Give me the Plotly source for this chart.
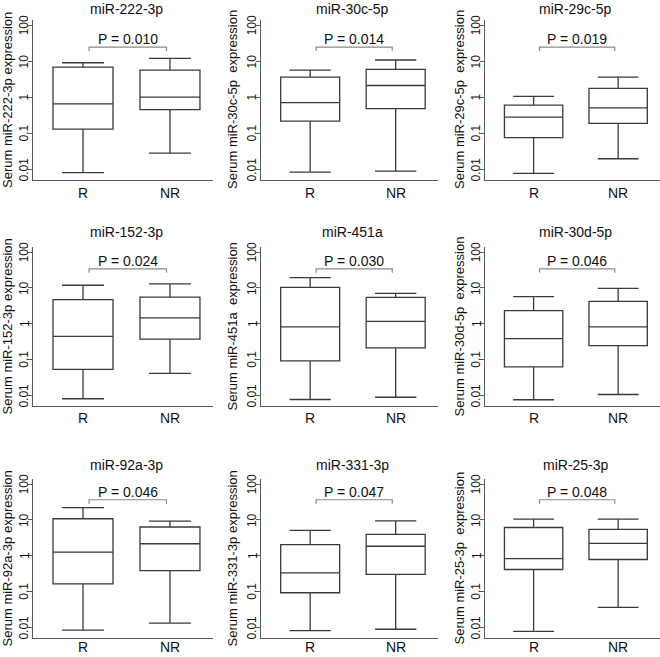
import math
import plotly.graph_objects as go

# ---------------- data ----------------
titles = ["miR-222-3p", "miR-30c-5p", "miR-29c-5p",
          "miR-152-3p", "miR-451a", "miR-30d-5p",
          "miR-92a-3p", "miR-331-3p", "miR-25-3p"]
p_labels = ["P = 0.010", "P = 0.014", "P = 0.019",
            "P = 0.024", "P = 0.030", "P = 0.046",
            "P = 0.046", "P = 0.047", "P = 0.048"]
y_titles = ["Serum miR-222-3p expression", "Serum miR-30c-5p\u00a0 expression",
            "Serum miR-29c-5p\u00a0 expression", "Serum miR-152-3p expression",
            "Serum miR-451a\u00a0 expression", "Serum miR-30d-5p\u00a0 expression",
            "Serum miR-92a-3p expression", "Serum miR-331-3p expression",
            "Serum miR-25-3p\u00a0 expression"]
groups = ["R", "NR"]

r_low = [0.008, 0.0083, 0.0077, 0.008, 0.0076, 0.0075, 0.0083, 0.0081, 0.0077]
r_q1 = [0.13, 0.215, 0.075, 0.053, 0.091, 0.062, 0.163, 0.092, 0.41]
r_med = [0.65, 0.70, 0.28, 0.44, 0.81, 0.38, 1.26, 0.33, 0.83]
r_q3 = [6.8, 3.6, 0.6, 4.7, 10.3, 2.3, 10.7, 2.04, 6.1]
r_high = [9.0, 5.6, 1.05, 11.8, 19.2, 5.7, 22.0, 5.1, 10.5]

nr_low = [0.028, 0.0088, 0.0195, 0.041, 0.0088, 0.0105, 0.013, 0.0088, 0.036]
nr_q1 = [0.45, 0.48, 0.186, 0.37, 0.21, 0.243, 0.38, 0.30, 0.78]
nr_med = [1.0, 2.1, 0.50, 1.44, 1.16, 0.81, 2.15, 1.83, 2.2]
nr_q3 = [5.6, 5.9, 1.74, 5.5, 5.4, 4.2, 6.3, 3.9, 5.4]
nr_high = [11.9, 10.7, 3.6, 12.9, 7.0, 9.7, 9.2, 9.4, 10.5]

y_tickvals = [0.01, 0.1, 1, 10, 100]
y_ticktext = ["0.01", "0.1", "1", "10", "100"]

# ---------------- layout geometry (pixels) ----------------
W, H = 660, 657
col_px = [(33, 213), (261, 438), (485, 660)]
row_px = [(20, 180), (247, 406), (479, 638)]
xlab_py = [193, 418, 646.5]
title_py = [9, 232, 465]
ytitle_px = [7, 232, 459]
bracket_log = [1.39, 1.53, 1.56]
ptext_log = [1.62, 1.76, 1.79]

FONT = "Arial, Liberation Sans, sans-serif"
AXIS_COL = "#5a5a5a"
BOX_COL = "#3a3a3a"
TXT = "#111111"

fig = go.Figure()
annotations = []
layout_axes = {}

for i in range(9):
    r, c = divmod(i, 3)
    n = i + 1
    xs = "" if n == 1 else str(n)
    x0, x1 = col_px[c]
    y0, y1 = row_px[r]

    fig.add_trace(go.Box(
        x=[0, 1],
        q1=[r_q1[i], nr_q1[i]],
        median=[r_med[i], nr_med[i]],
        q3=[r_q3[i], nr_q3[i]],
        lowerfence=[r_low[i], nr_low[i]],
        upperfence=[r_high[i], nr_high[i]],
        width=0.69, whiskerwidth=0.7,
        fillcolor="white",
        line=dict(color=BOX_COL, width=1.3),
        boxpoints=False, hoverinfo="skip",
        showlegend=False,
        xaxis="x" + xs, yaxis="y" + xs,
    ))

    b = bracket_log[r]
    fig.add_trace(go.Scatter(
        x=[0.07, 0.07, 0.96, 0.96],
        y=[10 ** (b - 0.11), 10 ** b, 10 ** b, 10 ** (b - 0.11)],
        mode="lines", line=dict(color="#8a8a8a", width=1.2),
        hoverinfo="skip", showlegend=False,
        xaxis="x" + xs, yaxis="y" + xs,
    ))

    layout_axes["xaxis" + xs] = dict(
        domain=[x0 / W, x1 / W], anchor="y" + xs, automargin=False,
        range=[-0.575, 1.495], tickvals=[0, 1], ticktext=groups,
        showticklabels=False,
        showline=True, linecolor=AXIS_COL, linewidth=1.3,
        ticks="", showgrid=False, zeroline=False,
    )
    layout_axes["yaxis" + xs] = dict(
        domain=[1 - y1 / H, 1 - y0 / H], anchor="x" + xs, automargin=False,
        type="log", range=[-2.3, 2.14],
        tickvals=y_tickvals, ticktext=y_ticktext, showticklabels=False,
        ticks="outside", ticklen=4, tickwidth=1, tickcolor=AXIS_COL,
        showline=True, linecolor=AXIS_COL, linewidth=1.3,
        showgrid=False, zeroline=False,
    )

    # y tick labels (rotated, R style)
    for v, t in zip(y_tickvals, y_ticktext):
        annotations.append(dict(
            x=(x0 - 8.7) / W, y=math.log10(v), xref="paper", yref="y" + xs,
            text=t, showarrow=False, textangle=-90,
            xanchor="center", yanchor="middle",
            font=dict(size=12, color=TXT, family=FONT),
        ))
    # x tick labels
    for k, g in enumerate(groups):
        annotations.append(dict(
            x=k, y=1 - xlab_py[r] / H, xref="x" + xs, yref="paper",
            text=g, showarrow=False, xanchor="center", yanchor="middle",
            font=dict(size=14, color=TXT, family=FONT),
        ))
    # panel title
    annotations.append(dict(
        x=0.5, y=1 - title_py[r] / H, xref="x" + xs, yref="paper",
        text=titles[i], showarrow=False, xanchor="center", yanchor="middle",
        font=dict(size=14, color=TXT, family=FONT),
    ))
    # P value
    annotations.append(dict(
        x=0.515, y=ptext_log[r], xref="x" + xs, yref="y" + xs,
        text=p_labels[i], showarrow=False, xanchor="center", yanchor="middle",
        font=dict(size=14, color=TXT, family=FONT),
    ))
    # y axis title
    annotations.append(dict(
        x=ytitle_px[c] / W, y=1 - (y0 + y1) / 2 / H, xref="paper", yref="paper",
        text=y_titles[i], showarrow=False, textangle=-90,
        xanchor="center", yanchor="middle",
        font=dict(size=13, color=TXT, family=FONT),
    ))

fig.update_layout(
    width=W, height=H,
    margin=dict(l=0, r=0, t=0, b=0, autoexpand=False),
    paper_bgcolor="white", plot_bgcolor="white",
    annotations=annotations,
    **layout_axes,
)

fig.write_html(
    "out.html",
    config={"displayModeBar": False, "staticPlot": True},
    post_script="document.body.style.margin='0';document.body.style.padding='0';",
)
